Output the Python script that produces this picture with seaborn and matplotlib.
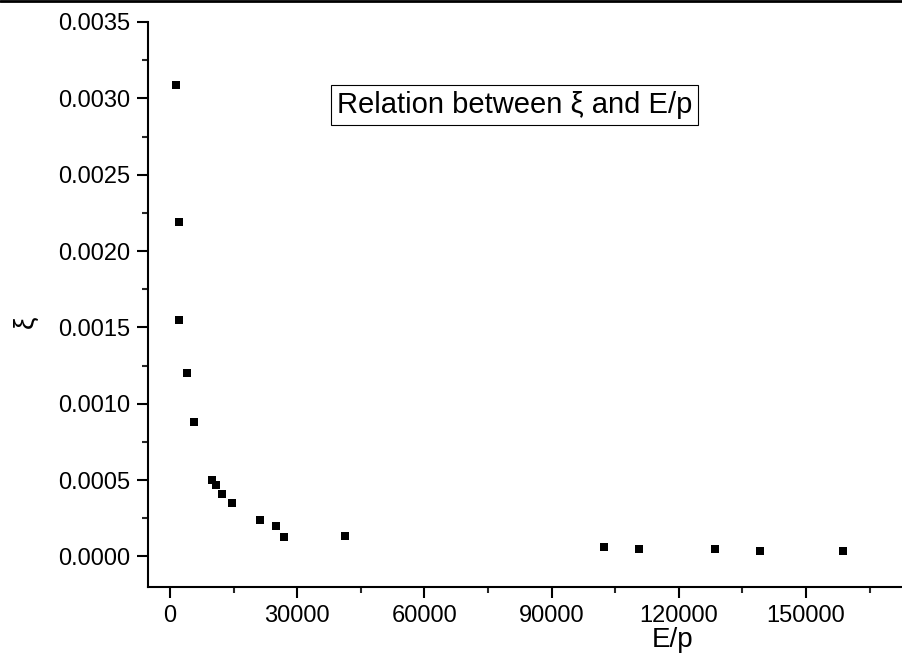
import matplotlib
matplotlib.use("Agg")
import matplotlib.pyplot as plt
import seaborn as sns
import pandas as pd
from matplotlib.ticker import MultipleLocator, FormatStrFormatter
from matplotlib.lines import Line2D

# values
ep = [1415, 2120, 2120, 4000, 5660, 9910, 10850, 12260, 14620, 21230,
      25000, 26890, 41270, 102360, 110600, 128540, 139150, 158730]
xi = [0.00309, 0.00219, 0.00155, 0.00120, 0.00088, 0.00050, 0.000465,
      0.000406, 0.000347, 0.000242, 0.000197, 0.000125, 0.000131,
      0.000059, 0.000052, 0.000046, 0.000039, 0.000039]

df = pd.DataFrame({"E/p": ep, "xi": xi})

sns.set_style("ticks")
plt.rcParams["font.family"] = ["Liberation Sans", "DejaVu Sans"]
plt.rcParams["text.color"] = "black"
plt.rcParams["axes.labelcolor"] = "black"

fig = plt.figure(figsize=(9.03, 6.55), dpi=100)
ax = fig.add_axes([148 / 903, 68 / 655, 755 / 903, 565 / 655])

sns.scatterplot(data=df, x="E/p", y="xi", marker="s", s=28, color="black",
                linewidth=0, ax=ax)

ax.set_xlim(-5190, 172900)
ax.set_ylim(-0.0002, 0.0035)

ax.xaxis.set_major_locator(MultipleLocator(30000))
ax.xaxis.set_minor_locator(MultipleLocator(15000))
ax.xaxis.set_major_formatter(FormatStrFormatter("%d"))
ax.yaxis.set_major_locator(MultipleLocator(0.0005))
ax.yaxis.set_minor_locator(MultipleLocator(0.00025))
ax.yaxis.set_major_formatter(FormatStrFormatter("%.4f"))

ax.tick_params(which="major", length=8, width=1.5, labelsize=17, pad=5,
               direction="out", color="black", labelcolor="black")
ax.tick_params(which="minor", length=4, width=1.5, direction="out")

for side in ["top", "right"]:
    ax.spines[side].set_visible(False)
for side in ["left", "bottom"]:
    ax.spines[side].set_linewidth(1.5)
    ax.spines[side].set_color("black")

ax.set_xlabel("E/p", fontsize=20)
ax.xaxis.set_label_coords(0.695, -0.094)
ax.xaxis.label.set_va("center")
ax.set_ylabel("ξ", fontsize=20)
ax.yaxis.set_label_coords(-0.162, 0.469)
ax.yaxis.label.set_va("center")

ax.text(0.486, 0.853, "Relation between ξ and E/p", transform=ax.transAxes,
        fontsize=21, ha="center", va="center", color="black",
        bbox=dict(boxstyle="square,pad=0.2", facecolor="white",
                  edgecolor="black", linewidth=0.8))

fig.add_artist(Line2D([0, 1], [0.9985, 0.9985], transform=fig.transFigure,
                      color="black", linewidth=2))

fig.savefig("out.png", dpi=100)
